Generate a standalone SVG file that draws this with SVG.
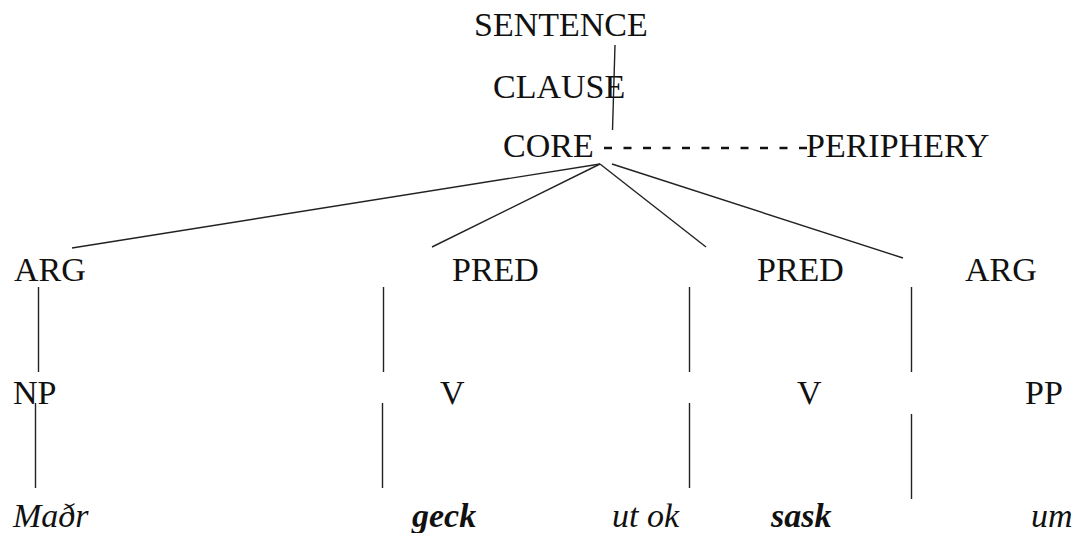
<svg xmlns="http://www.w3.org/2000/svg" width="1077" height="533" viewBox="0 0 1077 533">
<style>
  text { font-family: "Liberation Serif", "Times New Roman", serif; font-size: 34px; fill: #111; }
  .it { font-style: italic; }
  .bi { font-style: italic; font-weight: bold; }
  .edge { stroke: #222; stroke-width: 1.4; fill: none; }
  .dash { stroke: #111; stroke-width: 2.6; fill: none; stroke-dasharray: 8 11.5; }
</style>
<rect width="1077" height="533" fill="#fff"/>
<g id="connectors">
  <line class="edge" x1="615" y1="45" x2="612.5" y2="130"/>
  <line class="dash" x1="604" y1="148" x2="807" y2="148"/>
  <line class="edge" x1="600" y1="164" x2="72" y2="248"/>
  <line class="edge" x1="600" y1="164" x2="432" y2="247"/>
  <line class="edge" x1="600" y1="164" x2="706" y2="247"/>
  <line class="edge" x1="612" y1="164" x2="903" y2="258"/>
  <line class="edge" x1="38.5" y1="287" x2="38.5" y2="372"/>
  <line class="edge" x1="35.5" y1="403" x2="35.5" y2="488"/>
  <line class="edge" x1="383.5" y1="287" x2="383.5" y2="372"/>
  <line class="edge" x1="382.5" y1="403" x2="382.5" y2="488"/>
  <line class="edge" x1="689.5" y1="287" x2="689.5" y2="372"/>
  <line class="edge" x1="689.5" y1="403" x2="689.5" y2="488"/>
  <line class="edge" x1="911.5" y1="287" x2="911.5" y2="372"/>
  <line class="edge" x1="911.5" y1="414" x2="911.5" y2="499"/>
</g>
<g id="sentence"><text x="474" y="36">SENTENCE</text></g>
<g id="clause"><text x="493" y="98">CLAUSE</text></g>
<g id="core"><text x="503" y="157">CORE</text></g>
<g id="periphery"><text x="806" y="157">PERIPHERY</text></g>
<g id="arg1"><text x="14" y="281">ARG</text></g>
<g id="pred1"><text x="452" y="281">PRED</text></g>
<g id="pred2"><text x="757" y="281">PRED</text></g>
<g id="arg2"><text x="965" y="281">ARG</text></g>
<g id="np"><text x="13" y="404">NP</text></g>
<g id="v1"><text x="440" y="404">V</text></g>
<g id="v2"><text x="797" y="404">V</text></g>
<g id="pp"><text x="1025" y="404">PP</text></g>
<g id="w-madr"><text class="it" x="13" y="527">Maðr</text></g>
<g id="w-geck"><text class="bi" x="412" y="527">geck</text></g>
<g id="w-utok"><text class="it" x="612" y="527">ut ok</text></g>
<g id="w-sask"><text class="bi" x="771" y="527">sask</text></g>
<g id="w-um"><text class="it" x="1031" y="527">um</text></g>
</svg>
